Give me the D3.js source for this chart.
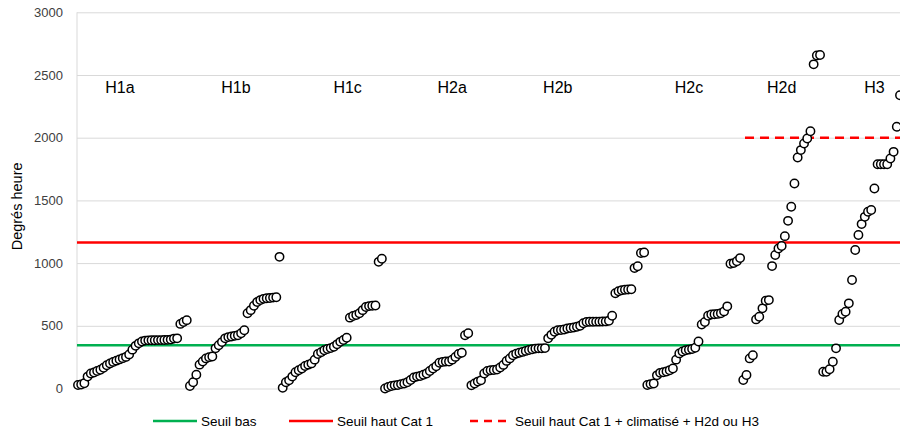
<!DOCTYPE html>
<html>
<head>
<meta charset="utf-8">
<script src="https://cdn.jsdelivr.net/npm/d3@7"></script>
<style>
  html, body { margin: 0; padding: 0; background: #ffffff; }
  svg { display: block; font-family: "Liberation Sans", Arial, sans-serif; }
</style>
</head>
<body>
<svg id="chart" width="900" height="430"></svg>
<script>
// ---- data ----
const groups = ["H1a", "H1b", "H1c", "H2a", "H2b", "H2c", "H2d", "H3"];
const h1a = [28,32,42,95,120,128,140,150,165,185,200,212,222,232,242,252,272,310,340,360,375,382,384,385,385,386,386,387,388,390,398,400,515,530,545];
const h1b = [20,50,110,190,215,240,250,255,320,345,370,400,410,415,420,425,440,465,600,625,660,690,705,715,720,722,725,728,1050];
const h1c = [5,50,65,95,130,145,160,180,190,200,230,275,290,305,315,322,333,352,372,387,405,565,578,586,600,625,650,657,660,662,1010,1035];
const h2a = [0,12,20,25,28,35,40,50,68,88,95,100,110,120,140,160,178,205,212,215,215,230,252,275,285,425,440];
const h2b = [25,40,55,65,120,140,145,148,152,168,188,220,240,265,278,285,292,300,307,313,318,320,320,322,400,428,452,465,467,470,478,482,487,493,500,520,530,532,532,533,533,534,535,540,580,760,775,783,787,790,792,960,975,1080,1085];
const h2c = [28,35,40,105,125,130,135,145,160,230,280,295,305,310,315,325,375,510,530,580,590,592,595,600,615,655,995,1000,1015,1040];
const h2d = [68,108,240,265,551,572,639,700,705,976,1064,1117,1136,1215,1337,1449,1635,1842,1901,1954,1994,2052,2585,2655,2660];
const h3  = [134,134,153,213,320,546,594,612,679,865,1104,1224,1311,1369,1409,1423,1595,1788,1788,1788,1788,1834,1887,2087,2339];
const seriesValues = [h1a, h1b, h1c, h2a, h2b, h2c, h2d, h3];
const yTicks = [0, 500, 1000, 1500, 2000, 2500, 3000];
const seuilBas = 345;
const seuilHautCat1 = 1165;
const seuilClim = 2000;
const legendLabels = ["Seuil bas", "Seuil haut Cat 1", "Seuil haut Cat 1 + climatisé + H2d ou H3"];

// ---- layout ----
const labelIndex = [13.1, 49.4, 84.3, 117, 150, 191, 220, 249];
const plot = { left: 77, right: 900, top: 12.3, bottom: 388.5 };

// flatten points with a running index
const points = [];
seriesValues.forEach((arr, g) => arr.forEach(v => points.push({ g, v, i: points.length })));
const N = points.length;

const svg = d3.select("#chart");
const x = d3.scaleLinear().domain([0, N - 1]).range([78, 900]);
const y = d3.scaleLinear().domain([0, 3000]).range([plot.bottom, plot.top]);

// gridlines
svg.append("g")
  .attr("transform", `translate(${plot.left},0)`)
  .call(d3.axisLeft(y).tickValues(yTicks).tickSize(-(plot.right - plot.left)).tickFormat(""))
  .call(g => g.select(".domain").remove())
  .call(g => g.selectAll("line").attr("stroke", "#d9d9d9").attr("stroke-width", 1));

// vertical axis line
svg.append("line")
  .attr("x1", plot.left).attr("x2", plot.left)
  .attr("y1", y(3000)).attr("y2", y(0))
  .attr("stroke", "#d9d9d9").attr("stroke-width", 1);

// tick labels
svg.append("g")
  .attr("transform", `translate(${plot.left},0)`)
  .call(d3.axisLeft(y).tickValues(yTicks).tickSize(0).tickPadding(14).tickFormat(d3.format("d")))
  .call(g => g.select(".domain").remove())
  .call(g => g.selectAll("text").attr("font-size", 13).attr("fill", "#404040")
    .attr("font-family", "'Liberation Sans', Arial, sans-serif"));

// y title
svg.append("text")
  .attr("transform", `translate(22,${(plot.top + plot.bottom) / 2 + 6}) rotate(-90)`)
  .attr("text-anchor", "middle")
  .attr("font-size", 14.5)
  .attr("fill", "#000")
  .text("Degrés heure");

// threshold lines
svg.append("line")
  .attr("x1", plot.left).attr("x2", plot.right)
  .attr("y1", y(seuilBas)).attr("y2", y(seuilBas))
  .attr("stroke", "#00b050").attr("stroke-width", 2.5);
svg.append("line")
  .attr("x1", plot.left).attr("x2", plot.right)
  .attr("y1", y(seuilHautCat1)).attr("y2", y(seuilHautCat1))
  .attr("stroke", "#ff0000").attr("stroke-width", 2.5);
svg.append("line")
  .attr("x1", 745).attr("x2", plot.right)
  .attr("y1", y(seuilClim)).attr("y2", y(seuilClim))
  .attr("stroke", "#ff0000").attr("stroke-width", 2.5)
  .attr("stroke-dasharray", "9,6");

// group labels
svg.append("g").selectAll("text").data(groups).join("text")
  .attr("x", (d, k) => x(labelIndex[k]))
  .attr("y", 93)
  .attr("text-anchor", "middle")
  .attr("font-size", 16)
  .attr("fill", "#000")
  .text(d => d);

// points
svg.append("g").selectAll("circle").data(points).join("circle")
  .attr("cx", d => x(d.i))
  .attr("cy", d => y(d.v))
  .attr("r", 4.2)
  .attr("fill", "#ffffff")
  .attr("stroke", "#000000")
  .attr("stroke-width", 1.5);

// legend
const legendY = 421;
const legendItems = [
  { x1: 153, x2: 197, color: "#00b050", dash: null, tx: 201 },
  { x1: 289, x2: 333, color: "#ff0000", dash: null, tx: 337 },
  { x1: 470, x2: 510, color: "#ff0000", dash: "8,6", tx: 515 }
];
const lg = svg.append("g");
legendItems.forEach((it, k) => {
  lg.append("line")
    .attr("x1", it.x1).attr("x2", it.x2)
    .attr("y1", legendY).attr("y2", legendY)
    .attr("stroke", it.color).attr("stroke-width", 2.5)
    .attr("stroke-dasharray", it.dash);
  lg.append("text")
    .attr("x", it.tx).attr("y", legendY + 5)
    .attr("font-size", 13.5)
    .attr("fill", "#000")
    .text(legendLabels[k]);
});
</script>
</body>
</html>
